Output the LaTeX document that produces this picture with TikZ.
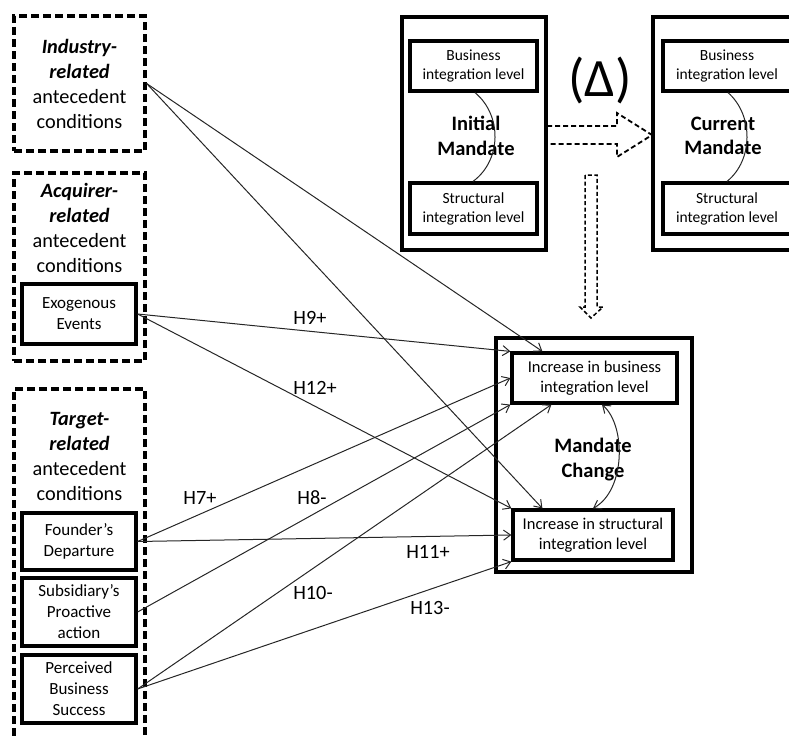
\documentclass[tikz,border=0pt]{standalone}
\usepackage{fontspec}
\setmainfont{Carlito}
\usetikzlibrary{arrows.meta,calc}
\newcommand{\bigtxt}{\fontsize{20.3}{25}\selectfont}
\newcommand{\midtxt}{\fontsize{17}{21}\selectfont}
\newcommand{\smltxt}{\fontsize{15.5}{19}\selectfont}
\newcommand{\inctxt}{\fontsize{16.5}{19.5}\selectfont}
\newcommand{\bldtxt}{\fontsize{20.5}{24.5}\selectfont\bfseries}
\begin{document}
\begin{tikzpicture}[x=1pt,y=-1pt,
  dashbox/.style={draw, line width=3.2pt, dash pattern=on 8pt off 4pt, minimum width=131pt, inner sep=0pt, align=center, font=\bigtxt},
  solidbox/.style={draw, line width=3.2pt, inner sep=0pt, align=center},
  txt/.style={align=center, inner sep=0pt},
  arr/.style={-{Straight Barb[length=7pt,width=10pt]}, line width=1pt, black!85},
  curv/.style={line width=1pt, black!85},
  blockarrow/.style={line width=1.8pt, dash pattern=on 5pt off 3pt},
  hyp/.style={font=\bigtxt, inner sep=0pt}]
\useasboundingbox (0,0) rectangle (789,736);
\clip (0,0) rectangle (789,736);

% left column
\node[dashbox, minimum height=135pt] (ind) at (79.5,83.5)
  {\textbf{\textit{Industry-}}\\\textbf{\textit{related}}\\antecedent\\conditions};

\node[dashbox, minimum height=188pt] (acq) at (79.5,267) {};
\node[txt, font=\bigtxt] (acqt) at (79.5,228)
  {\textbf{\textit{Acquirer-}}\\\textbf{\textit{related}}\\antecedent\\conditions};
\node[solidbox, minimum width=114pt, minimum height=60pt, font=\midtxt] (exo) at (79,314) {Exogenous\\Events};

\node[dashbox, minimum height=371pt] (tgt) at (79.5,574.5) {};
\node[txt, font=\bigtxt] (tgtt) at (79.5,456)
  {\textbf{\textit{Target-}}\\\textbf{\textit{related}}\\antecedent\\conditions};
\node[solidbox, minimum width=114pt, minimum height=57pt, font=\midtxt] (fnd) at (79,541.5) {Founder’s\\Departure};
\node[solidbox, minimum width=114pt, minimum height=68pt, font=\midtxt] (sub) at (79,612) {Subsidiary’s\\Proactive\\action};
\node[solidbox, minimum width=114pt, minimum height=68pt, font=\midtxt] (per) at (79,689) {Perceived\\Business\\Success};

% initial mandate
\node[solidbox, minimum width=144pt, minimum height=233pt] (init) at (474,133.5) {};
\node[solidbox, minimum width=127pt, minimum height=50pt, font=\smltxt] (biza) at (473.5,66) {Business\\integration level};
\node[solidbox, minimum width=127pt, minimum height=51pt, font=\smltxt] (stra) at (473.5,208.5) {Structural\\integration level};
\node[txt, font=\bldtxt] (initt) at (476,136) {Initial\\Mandate};
\draw[curv] ($(biza.south)+(1.5,0)$) .. controls (502,115) and (502,160) .. ($(stra.north)+(-0.5,0)$);

% delta
\node[txt, font=\fontsize{54}{58}\selectfont] (delta) at (600,80) {(Δ)};

% current mandate
\node[solidbox, minimum width=147pt, minimum height=233pt] (cur) at (726.5,133.5) {};
\node[solidbox, minimum width=128pt, minimum height=50pt, font=\smltxt] (bizb) at (727,66) {Business\\integration level};
\node[solidbox, minimum width=128pt, minimum height=51pt, font=\smltxt] (strb) at (727,208.5) {Structural\\integration level};
\node[txt, font=\bldtxt] (curt) at (723,136) {Current\\Mandate};
\draw[curv] ($(bizb.south)+(1,0)$) .. controls (753.5,115) and (753.5,160) .. ($(strb.north)+(0,0)$);

% block arrows
\draw[blockarrow] (547,126) -- (617,126) -- (617,113) -- (652,135) -- (617,157) -- (617,144) -- (547,144);
\draw[blockarrow, line width=1.5pt, dash pattern=on 4pt off 2.5pt] (585,175) -- (585,307) -- (580,307) -- (591,318) -- (603,307) -- (597,307) -- (597,175) -- cycle;

% mandate change
\node[solidbox, minimum width=196pt, minimum height=234pt] (mc) at (594,455) {};
\node[solidbox, minimum width=165pt, minimum height=50pt, font=\inctxt] (incb) at (594.5,378) {Increase in business\\integration level};
\node[solidbox, minimum width=160pt, minimum height=50pt, font=\inctxt] (incs) at (593,535) {Increase in structural\\integration level};
\node[txt, font=\bldtxt] (mct) at (593,459.5) {Mandate\\Change};
\draw[curv, {Straight Barb[length=7pt,width=10pt]}-{Straight Barb[length=7pt,width=10pt]}]
  ($(incb.south)+(7.5,0)$) .. controls (626,425) and (626,490) .. ($(incs.north)+(0,0)$);

% hypotheses
\draw[arr] (ind.east) -- ($(incb.north west)+(32,0)$);
\draw[arr] (ind.east) -- ($(incs.north west)+(31,0)$);
\draw[arr] (exo.east) -- (incb.north west);
\draw[arr] (exo.east) -- (incs.north west);
\draw[arr] (fnd.east) -- (incb.west);
\draw[arr] (fnd.east) -- (incs.west);
\draw[arr] (sub.east) -- (incb.south west);
\draw[arr] (per.east) -- ($(incb.south west)+(41,0)$);
\draw[arr] (per.east) -- (incs.south west);

\node[hyp] (h9) at (310,318) {H9+};
\node[hyp] (h12) at (315,388) {H12+};
\node[hyp] (h7) at (200,498) {H7+};
\node[hyp] (h8) at (312,498) {H8-};
\node[hyp] (h10) at (313,593) {H10-};
\node[hyp] (h11) at (428,552) {H11+};
\node[hyp] (h13) at (430,608) {H13-};
\end{tikzpicture}
\end{document}
